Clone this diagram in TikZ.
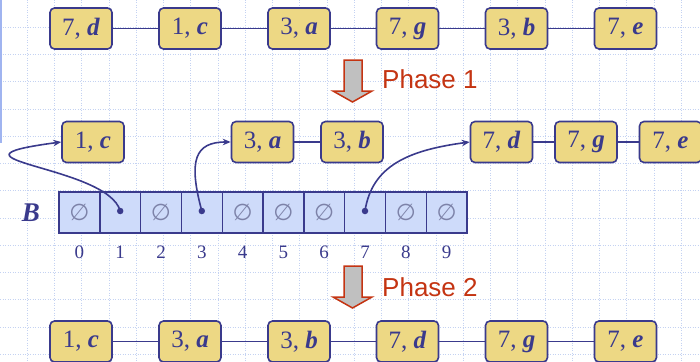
\documentclass[tikz,border=0pt]{standalone}
\usepackage{fontspec}
\setmainfont{Liberation Serif}
\newfontfamily\phasefont{Liberation Sans}
\newfontfamily\symfont{DejaVu Sans}
\usetikzlibrary{arrows.meta}

\definecolor{navy}{RGB}{58,58,140}
\definecolor{boxfill}{RGB}{237,216,132}
\definecolor{cellfill}{RGB}{206,219,250}
\definecolor{gridblue}{RGB}{196,210,242}
\definecolor{edgeblue}{RGB}{160,180,240}
\definecolor{phasered}{RGB}{196,52,18}
\definecolor{emptygrey}{RGB}{125,130,168}
\definecolor{arrowgrey}{RGB}{192,192,192}

\tikzset{
  entry/.style={draw=navy, line width=1.6pt, fill=boxfill, rounded corners=4.5pt,
    minimum width=62pt, minimum height=41pt, inner sep=0pt,
    text=navy, font=\fontsize{25}{25}\selectfont},
  link/.style={draw=navy, line width=1.6pt},
  cell/.style={draw=navy, line width=1.4pt, fill=cellfill,
    minimum width=40.8pt, minimum height=41pt, inner sep=0pt,
    text=emptygrey, font=\symfont\fontsize{23}{23}\selectfont},
  idx/.style={text=navy, font=\fontsize{19}{19}\selectfont, inner sep=0pt},
  dot/.style={circle, fill=navy, minimum size=6.5pt, inner sep=0pt},
  pointer/.style={draw=navy, line width=1.6pt, -{Stealth[length=8pt,width=6.5pt]}},
  blockarrow/.style={draw=phasered, line width=1.5pt, fill=arrowgrey, line join=miter},
  phase/.style={text=phasered, font=\phasefont\fontsize{26}{26}\selectfont,
    inner sep=0pt, anchor=base west},
}

\newcommand{\kv}[2]{#1, \textbf{\textit{#2}}}

\begin{document}
\begin{tikzpicture}[x=1pt, y=-1pt]
  \useasboundingbox (0,0) rectangle (700,361);

  % background grid
  \foreach \k in {1,...,25}
    \draw[gridblue, line width=0.8pt, dash pattern=on 1pt off 1.5pt]
      (27.25*\k,0) -- (27.25*\k,361);
  \foreach \k in {1,...,13}
    \draw[gridblue, line width=0.8pt, dash pattern=on 1pt off 1.5pt]
      (0,27.25*\k) -- (700,27.25*\k);
  \draw[edgeblue, line width=1.3pt] (1,0) -- (1,143);

  % input sequence
  \node[entry] (t1) at (81,28.5)    {\kv{7}{d}};
  \node[entry] (t2) at (190,28.5)   {\kv{1}{c}};
  \node[entry] (t3) at (299,28.5)   {\kv{3}{a}};
  \node[entry] (t4) at (407.5,28.5) {\kv{7}{g}};
  \node[entry] (t5) at (516.5,28.5) {\kv{3}{b}};
  \node[entry] (t6) at (625.5,28.5) {\kv{7}{e}};
  \draw[link] (t1) -- (t2) (t2) -- (t3) (t3) -- (t4) (t4) -- (t5) (t5) -- (t6);

  % phase 1 arrow
  \draw[blockarrow] (344,60) -- (344,91) -- (333,91) -- (352.5,102)
    -- (372,91) -- (362,91) -- (362,60) -- cycle;
  \node[phase] (ph1) at (382,88) {Phase 1};

  % buckets
  \node[entry] (m1) at (93,142)    {\kv{1}{c}};
  \node[entry] (m2) at (262.5,142) {\kv{3}{a}};
  \node[entry] (m3) at (352,142)   {\kv{3}{b}};
  \node[entry] (m4) at (501.5,142) {\kv{7}{d}};
  \node[entry] (m5) at (586,142)   {\kv{7}{g}};
  \node[entry] (m6) at (670.5,142) {\kv{7}{e}};
  \draw[link] (m2) -- (m3) (m4) -- (m5) (m5) -- (m6);

  % bucket array B
  \node[text=navy, font=\fontsize{27}{27}\selectfont\bfseries\itshape] (B) at (31,213) {B};
  \foreach \i/\s in {0/∅,1/,2/∅,3/,4/∅,5/∅,6/∅,7/,8/∅,9/∅} {
    \node[cell] (b\i) at (79.4+40.8*\i,212.5) {\s};
    \node[idx] (i\i) at ([yshift=-19pt]b\i.south) {\i};
  }
  \node[dot] (d1) at ([yshift=1.5pt]b1.center) {};
  \node[dot] (d3) at ([yshift=1.5pt]b3.center) {};
  \node[dot] (d7) at ([yshift=1.5pt]b7.center) {};

  \draw[pointer] (d1.center) .. controls (108,165) and (-75,160) .. (m1.west);
  \draw[pointer] (d3.center) .. controls (188,160) and (195,142) .. (m2.west);
  \draw[pointer] (d7.center) .. controls (372,165) and (410,150) .. (m4.west);

  % phase 2 arrow
  \draw[blockarrow] (344,266) -- (344,297) -- (333,297) -- (352.5,308)
    -- (372,297) -- (362,297) -- (362,266) -- cycle;
  \node[phase] (ph2) at (382,296) {Phase 2};

  % sorted sequence
  \node[entry] (s1) at (81,341.5)    {\kv{1}{c}};
  \node[entry] (s2) at (190,341.5)   {\kv{3}{a}};
  \node[entry] (s3) at (299,341.5)   {\kv{3}{b}};
  \node[entry] (s4) at (407.5,341.5) {\kv{7}{d}};
  \node[entry] (s5) at (516.5,341.5) {\kv{7}{g}};
  \node[entry] (s6) at (625.5,341.5) {\kv{7}{e}};
  \draw[link] (s1) -- (s2) (s2) -- (s3) (s3) -- (s4) (s4) -- (s5) (s5) -- (s6);
\end{tikzpicture}
\end{document}
